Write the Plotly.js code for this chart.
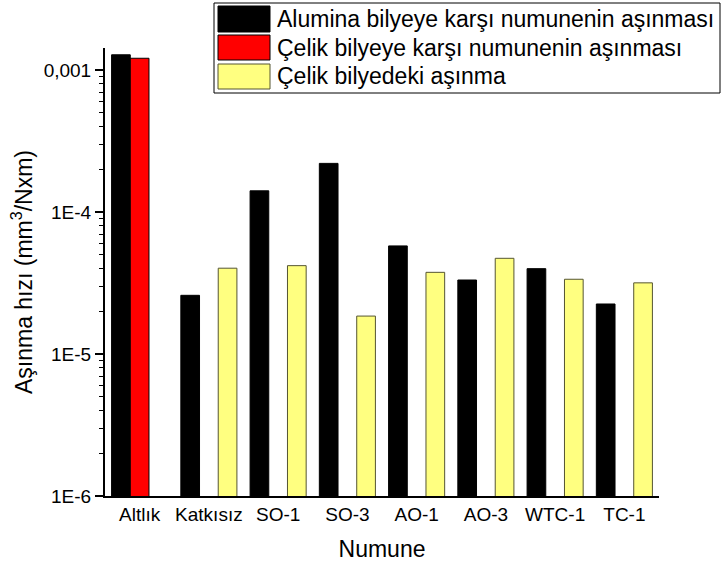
<!DOCTYPE html>
<html>
<head>
<meta charset="utf-8">
<script src="https://cdn.plot.ly/plotly-3.0.1.min.js"></script>
<style>html,body{margin:0;padding:0;background:#fff;}#chart{width:721px;height:566px;}</style>
</head>
<body>
<div id="chart"></div>
<script>
// ---- data ----
const categories = ["Altlık", "Katkısız", "SO-1", "SO-3", "AO-1", "AO-3", "WTC-1", "TC-1"];
const aluminaWear = [1.28e-3, 2.59e-5, 1.41e-4, 2.20e-4, 5.77e-5, 3.32e-5, 3.99e-5, 2.25e-5];
const steelWear = [1.21e-3, null, null, null, null, null, null, null];
const steelBallWear = [null, 4.02e-5, 4.19e-5, 1.85e-5, 3.76e-5, 4.72e-5, 3.36e-5, 3.17e-5];
const seriesNames = ["Alumina bilyeye karşı numunenin aşınması", "Çelik bilyeye karşı numunenin aşınması", "Çelik bilyedeki aşınma"];
const yTickVals = [1e-6, 1e-5, 1e-4, 1e-3];
const yTickText = ["1E-6", "1E-5", "1E-4", "0,001"];

// ---- layout helpers (pixel -> paper) ----
const W = 721, H = 566;
const M = {l: 105, r: 62, t: 48, b: 70};
const pw = W - M.l - M.r, ph = H - M.t - M.b;
const px = x => (x - M.l) / pw;
const py = y => (H - M.b - y) / ph;
const FONT = "Liberation Sans, Arial, sans-serif";
const colors = ["#000000", "#ff0000", "#ffff80"];
const lineColors = ["#000000", "#000000", "#555533"];

const traces = [aluminaWear, steelWear, steelBallWear].map((vals, i) => ({
  type: "bar", x: categories, y: vals, name: seriesNames[i],
  marker: {color: colors[i], line: {color: lineColors[i], width: 1}},
  hoverinfo: "x+y"
}));

const legendRows = [[6, 32], [35, 60], [64, 89]];
const shapes = [{
  type: "rect", xref: "paper", yref: "paper",
  x0: px(214), x1: px(720), y0: py(93), y1: py(3),
  fillcolor: "#ffffff", line: {color: "#000000", width: 1}
}];
const annotations = [];
legendRows.forEach((r, i) => {
  shapes.push({
    type: "rect", xref: "paper", yref: "paper",
    x0: px(218), x1: px(270), y0: py(r[1]), y1: py(r[0]),
    fillcolor: colors[i], line: {color: lineColors[i], width: 1}
  });
  annotations.push({
    xref: "paper", yref: "paper", x: px(275), y: py((r[0] + r[1]) / 2),
    xanchor: "left", yanchor: "middle", showarrow: false,
    text: seriesNames[i], font: {family: FONT, size: 23, color: "#000"}
  });
});

const layout = {
  width: W, height: H,
  margin: M,
  paper_bgcolor: "#fff", plot_bgcolor: "#fff",
  font: {family: FONT, color: "#000"},
  showlegend: false,
  barmode: "group", bargap: 0.19, bargroupgap: 0,
  xaxis: {
    type: "category", range: [-0.5, 7.5],
    showline: true, linecolor: "#000", linewidth: 2,
    ticks: "", showgrid: false, zeroline: false,
    tickfont: {family: FONT, size: 19, color: "#000"},
    title: {text: "Numune", font: {family: FONT, size: 23, color: "#000"}, standoff: 17}
  },
  yaxis: {
    type: "log", range: [-6, -2.845],
    showline: true, linecolor: "#000", linewidth: 2,
    ticks: "outside", ticklen: 8, tickwidth: 1.5, tickcolor: "#000",
    tickvals: yTickVals, ticktext: yTickText,
    tickfont: {family: FONT, size: 19, color: "#000"},
    showgrid: false, zeroline: false,
    minor: {ticks: "outside", ticklen: 4, tickwidth: 1, tickcolor: "#000", dtick: "D1", showgrid: false},
    title: {text: "Aşınma hızı (mm<sup>3</sup>/Nxm)", font: {family: FONT, size: 23, color: "#000"}, standoff: 5}
  },
  shapes: shapes,
  annotations: annotations
};

Plotly.newPlot("chart", traces, layout, {displayModeBar: false, staticPlot: true});
</script>
</body>
</html>
